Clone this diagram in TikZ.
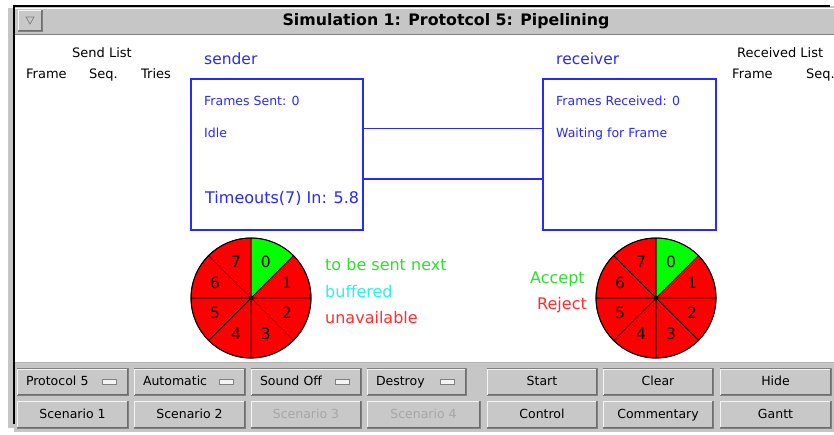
\documentclass[tikz,border=0pt]{standalone}
\usepackage{fontspec}
\setmainfont{DejaVu Sans}
\usetikzlibrary{calc}

\definecolor{uiblue}{HTML}{2A2AF5}
\definecolor{wedgegreen}{HTML}{00FF00}
\definecolor{wedgered}{HTML}{FF0000}
\definecolor{txtgreen}{HTML}{2EE02E}
\definecolor{txtcyan}{HTML}{2EEEEE}
\definecolor{txtred}{HTML}{FF2E2E}
\definecolor{panel}{HTML}{C6C6C6}
\definecolor{btnface}{HTML}{C8C8C8}
\definecolor{btnshade}{HTML}{808080}
\definecolor{btnlight}{HTML}{F4F4F4}
\definecolor{dimtext}{HTML}{A6A6A6}

\newcommand\fs[1]{\fontsize{#1}{#1}\selectfont}

\tikzset{
  lbl/.style={anchor=base west, inner sep=0pt},
  listhead/.style={lbl, font=\fs{13}},
  boxtitle/.style={lbl, text=uiblue, font=\fs{15.5}},
  boxtext/.style={lbl, text=uiblue, font=\fs{12.5}},
  station/.style={draw=uiblue, line width=1.3pt, minimum height=151pt, inner sep=0pt},
  link/.style={draw=uiblue, line width=1.4pt},
  legend/.style={lbl, font=\fs{16}},
  digit/.style={inner sep=0pt, font=\fs{15.5}},
  wedge/.style={draw=black, line width=0.7pt},
  btn/.style={fill=btnface, draw=btnshade, line width=0.8pt, minimum height=27pt,
    inner sep=0pt, text height=9.5pt, text depth=2.5pt, font=\fs{12.5}},
  indicator/.style={draw=btnshade, fill=btnlight, line width=0.6pt,
    minimum width=14pt, minimum height=5pt, inner sep=0pt},
}

% raised bevel on a button node
\newcommand\bevel[1]{%
  \draw[btnlight, line width=1pt]
    ([xshift=1.3pt,yshift=1.3pt]#1.south west) |- ([xshift=-1.3pt,yshift=-1.3pt]#1.north east);
  \draw[btnshade!85!black, line width=1pt]
    ([xshift=1.3pt,yshift=1.3pt]#1.south west) -| ([xshift=-1.3pt,yshift=-1.3pt]#1.north east);}

% plain push button: name, cx, cy, width, label, text colour
\newcommand\pushbtn[6]{%
  \node[btn, minimum width=#4pt, text=#6] (#1) at (#2,#3) {#5};
  \bevel{#1}}

% option-menu button: name, cx, cy, width, text width, label
\newcommand\menubtn[6]{%
  \node[btn, minimum width=#4pt, text width=#5pt, align=left] (#1) at (#2,#3) {#6};
  \bevel{#1}
  \node[indicator] (#1-ind) at ([xshift=-19pt]#1.east) {};}

% sequence-number wheel: name, cx, cy
\newcommand\seqwheel[3]{%
  \begin{scope}[shift={(#2,#3)}, yscale=-1]
    \coordinate (#1) at (0,0);
    \foreach \i/\c in {0/wedgegreen,1/wedgered,2/wedgered,3/wedgered,
                       4/wedgered,5/wedgered,6/wedgered,7/wedgered} {
      \pgfmathsetmacro\a{90-45*\i}
      \filldraw[wedge, fill=\c] (#1) -- (\a:60) arc[start angle=\a, end angle=\a-45, radius=60] -- cycle;
      \node[digit] (#1-\i) at (\a-22.5:39) {\i};
    }
    \draw[line width=1pt] (#1) circle[radius=60];
    \fill (#1) circle[radius=1.8];
  \end{scope}}

\begin{document}
\begin{tikzpicture}[x=1pt, y=-1pt, font=\fs{12.5}]
\useasboundingbox (0,0) rectangle (834,434);
\fill[white] (0,0) rectangle (834,434);

% window frame and title bar
\fill[panel] (14,6) rectangle (834,34);
\fill[panel] (14,362) rectangle (834,432);
\draw[btnshade, line width=1pt] (14,34) -- (834,34);
\draw[white, line width=1pt] (14,35.5) -- (834,35.5);
\draw[btnshade!60!white, line width=0.8pt] (14,362) -- (834,362);
\fill[panel] (8,12) rectangle (12.5,424);
\fill[panel] (8,8) rectangle (20,12);
\fill[panel] (8,424) rectangle (20,428);
\draw[black, line width=2pt] (13.5,5) -- (13.5,424);
\draw[black, line width=2pt] (13,5.5) -- (830,5.5);
\draw[white, line width=0.8pt] (15,8) -- (834,8);

% window menu button
\node[btn, minimum width=24pt, minimum height=21pt, text height=0pt, text depth=0pt] (winmenu) at (30,20.5) {};
\bevel{winmenu}
\draw[btnshade, line width=0.7pt] (26,17) -- (34,17) -- (30,24) -- cycle;

\node[anchor=base, inner sep=0pt, font=\fs{15.8}\bfseries] (title) at (446,25.5)
  {Simulation 1: Prototcol 5: Pipelining};

% list headers
\node[listhead] (sendlist) at (72,57.5) {Send List};
\node[listhead] (sframe) at (26,78) {Frame};
\node[listhead] (sseq) at (89,78) {Seq.};
\node[listhead] (stries) at (141,78) {Tries};
\node[listhead] (recvlist) at (737,57.5) {Received List};
\node[listhead] (rframe) at (732,78) {Frame};
\node[listhead] (rseq) at (806,78) {Seq.};

% stations
\node[boxtitle] (sname) at (204,64) {sender};
\node[boxtitle] (rname) at (556,64) {receiver};
\node[station, minimum width=172pt] (snd) at (277,154.5) {};
\node[station, minimum width=173pt] (rcv) at (629.5,154.5) {};
\draw[link] ($(snd.north east)!0.331!(snd.south east)$) -- ($(rcv.north west)!0.331!(rcv.south west)$);
\draw[link] ($(snd.north east)!0.662!(snd.south east)$) -- ($(rcv.north west)!0.662!(rcv.south west)$);

\node[boxtext] (sent) at (204,105) {Frames Sent: 0};
\node[boxtext] (sstate) at (204,137) {Idle};
\node[lbl, text=uiblue, font=\fs{16}] (tout) at (205,203) {Timeouts(7) In: 5.8};
\node[boxtext] (rcvd) at (556,105) {Frames Received: 0};
\node[boxtext] (rstate) at (556,137) {Waiting for Frame};

% sequence wheels
\seqwheel{swheel}{251}{298}
\seqwheel{rwheel}{656}{298}

% legends
\node[legend, text=txtgreen] (lnext) at (325,270) {to be sent next};
\node[legend, text=txtcyan] (lbuf) at (325,297) {buffered};
\node[legend, text=txtred] (lunav) at (325,323) {unavailable};
\node[legend, text=txtgreen] (lacc) at (530,283.5) {Accept};
\node[legend, text=txtred] (lrej) at (537,309) {Reject};

% control panel, first row
\menubtn{protocol}{72.5}{382}{111}{93}{Protocol 5}
\menubtn{mode}{189.5}{382}{111}{93}{Automatic}
\menubtn{sound}{306}{382}{110}{92}{Sound Off}
\menubtn{destroy}{416.5}{382}{99}{81}{Destroy}
\pushbtn{start}{542}{382}{110}{Start}{black}
\pushbtn{clear}{658}{382}{110}{Clear}{black}
\pushbtn{hide}{775.5}{382}{111}{Hide}{black}

% control panel, second row
\pushbtn{scen1}{72.5}{414.5}{111}{Scenario 1}{black}
\pushbtn{scen2}{189.5}{414.5}{111}{Scenario 2}{black}
\pushbtn{scen3}{306}{414.5}{110}{Scenario 3}{dimtext}
\pushbtn{scen4}{423.5}{414.5}{113}{Scenario 4}{dimtext}
\pushbtn{control}{542}{414.5}{110}{Control}{black}
\pushbtn{comment}{658}{414.5}{110}{Commentary}{black}
\pushbtn{gantt}{775.5}{414.5}{111}{Gantt}{black}
\end{tikzpicture}
\end{document}
